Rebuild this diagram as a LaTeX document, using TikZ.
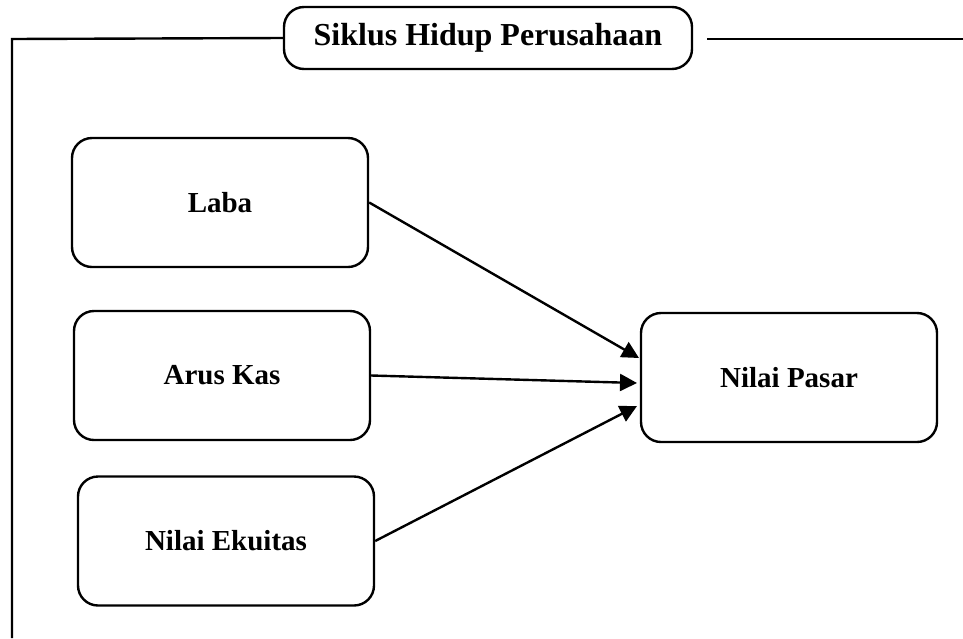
\documentclass[tikz,border=0pt]{standalone}
\usepackage{fontspec}
\setmainfont{Liberation Serif}
\usetikzlibrary{arrows.meta}
\begin{document}
\begin{tikzpicture}[x=1pt,y=-1pt,
  box/.style={draw,line width=2.4pt,rounded corners=20pt,inner sep=0pt,
    font=\fontsize{29}{34}\selectfont\bfseries},
  conn/.style={line width=2.4pt,-{Triangle[length=17pt,width=17pt]}},
  frame/.style={line width=2.4pt}]
\useasboundingbox (0,0) rectangle (963,638);
\node[box,minimum width=408pt,minimum height=62pt,font=\fontsize{32}{36}\selectfont\bfseries] (title) at (488,38) {Siklus Hidup Perusahaan};
\node[box,minimum width=296pt,minimum height=129pt] (laba) at (220,202.5) {Laba};
\node[box,minimum width=296pt,minimum height=129pt] (arus) at (222,375.5) {Arus Kas};
\node[box,minimum width=296pt,minimum height=129pt] (ekuitas) at (226,541) {Nilai Ekuitas};
\node[box,minimum width=296pt,minimum height=129pt] (pasar) at (789,377.5) {Nilai Pasar};
\coordinate (c0) at (12,638);
\coordinate (c1) at (12,39);
\coordinate (c2) at (963,39);
\coordinate (c3) at (707,39);
\coordinate (t1) at (639,358);
\coordinate (t2) at (637,383);
\coordinate (t3) at (637,406);
\draw[frame] (c0) -- (c1) -- (title.west);
\draw[frame] (c3) -- (c2);
\draw[conn] (laba.east) -- (t1);
\draw[conn] (arus.east) -- (t2);
\draw[conn] (ekuitas.east) -- (t3);
\end{tikzpicture}
\end{document}
